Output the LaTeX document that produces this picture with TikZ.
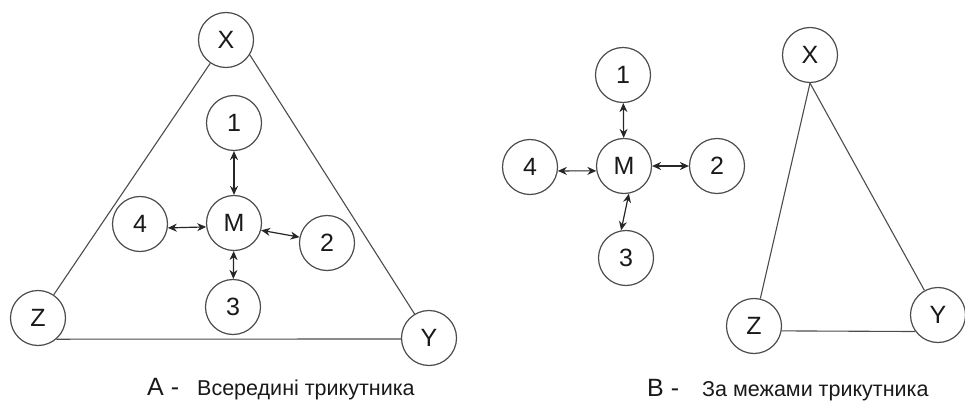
\documentclass[tikz,border=0pt]{standalone}
\usepackage{fontspec}
\setmainfont{Liberation Sans}
\usetikzlibrary{arrows.meta}
\begin{document}
\begin{tikzpicture}[x=1pt,y=-1pt,
  vtx/.style={circle,draw=black!70,line width=1.2pt,minimum size=55pt,inner sep=0pt,text=black!90,font=\fontsize{25}{25}\selectfont},
  edge/.style={draw=black!70,line width=1.1pt},
  biarrow/.style={draw=black!85,line width=1.2pt,{Stealth[length=9pt,width=8pt]}-{Stealth[length=9pt,width=8pt]}},
  captext/.style={font=\fontsize{21.5}{21.5}\selectfont,anchor=base west,inner sep=0pt,text=black!90},
  capletter/.style={font=\fontsize{25}{25}\selectfont,anchor=base west,inner sep=0pt,text=black!90}]
\useasboundingbox (0,0) rectangle (965,403);
% ---- Panel A ----
\node[vtx] (AX) at (226,40) {X};
\node[vtx] (A1) at (234,123) {1};
\node[vtx] (AM) at (234,223) {M};
\node[vtx] (A4) at (140,224) {4};
\node[vtx] (A2) at (327,243) {2};
\node[vtx] (A3) at (233,307) {3};
\node[vtx] (AZ) at (38,318) {Z};
\node[vtx] (AY) at (429,338) {Y};
\draw[edge] (AX) -- (AZ);
\draw[edge] (AX.-32) -- (AY.121);
\draw[edge] (AZ.-49) -- (AY.182);
\draw[biarrow] (A1) -- (AM);
\draw[biarrow] (A4.-8) -- (AM.188);
\draw[biarrow] (AM.-15) -- (A2.168);
\draw[biarrow] (AM) -- (A3);
\node[capletter] (Alab) at (147,395) {A -};
\node[captext] (Atext) at (197,395) {Всередині трикутника};
% ---- Panel B ----
\node[vtx] (BX) at (810,55) {X};
\node[vtx] (B1) at (623,75) {1};
\node[vtx] (BM) at (624,166) {M};
\node[vtx] (B4) at (530,167) {4};
\node[vtx] (B2) at (717,166) {2};
\node[vtx] (B3) at (626,258) {3};
\node[vtx] (BZ) at (754,326) {Z};
\node[vtx] (BY) at (938,315) {Y};
\draw[edge] (BX.south) -- (BZ);
\draw[edge] (BX.south) -- (BY);
\draw[edge] (BZ.-10) -- (BY.216);
\draw[biarrow] (B1) -- (BM);
\draw[biarrow] (B4.-8) -- (BM.190);
\draw[biarrow] (BM) -- (B2);
\draw[biarrow] (BM.-80) -- (B3.100);
\node[capletter] (Blab) at (647,396) {B -};
\node[captext] (Btext) at (702,396) {За межами трикутника};
\end{tikzpicture}
\end{document}
